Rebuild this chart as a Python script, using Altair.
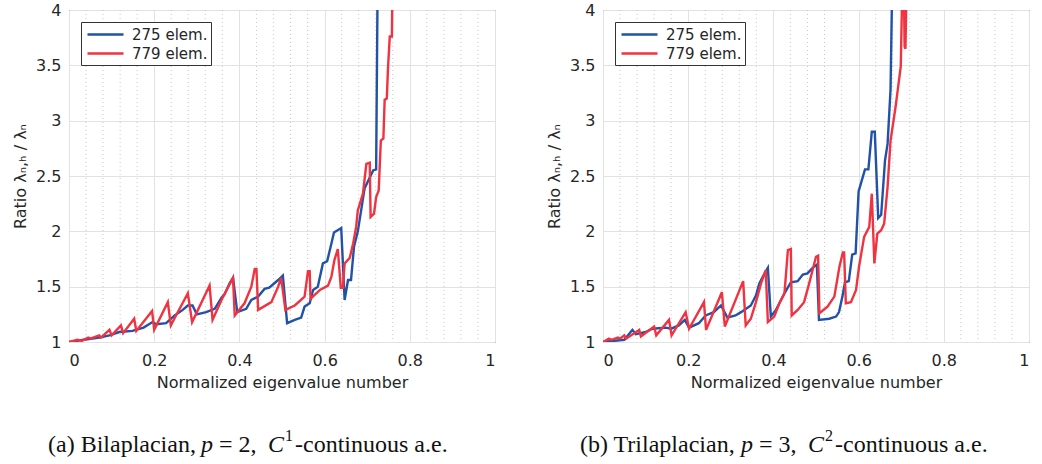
import altair as alt
import pandas as pd

# ---------------- data ----------------
series_names = ["275 elem.", "779 elem."]
series_colors = ["#2152a8", "#ef3340"]

# (a) Bilaplacian
xa_275 = [0.000, 0.035, 0.071, 0.095, 0.118, 0.149, 0.175, 0.196, 0.205, 0.228, 0.248, 0.267, 0.279,
          0.290, 0.300, 0.322, 0.342, 0.358, 0.365, 0.377, 0.385, 0.395, 0.416, 0.428, 0.444, 0.459,
          0.470, 0.491, 0.502, 0.512, 0.530, 0.545, 0.553, 0.565, 0.573, 0.584, 0.596, 0.606, 0.616,
          0.622, 0.639, 0.647, 0.655, 0.662, 0.669, 0.678, 0.694, 0.714, 0.721, 0.725, 0.730]
ya_275 = [1.00, 1.02, 1.04, 1.06, 1.09, 1.10, 1.13, 1.18, 1.16, 1.17, 1.24, 1.29, 1.33,
          1.33, 1.25, 1.27, 1.30, 1.40, 1.43, 1.53, 1.58, 1.27, 1.30, 1.38, 1.41, 1.48,
          1.49, 1.56, 1.60, 1.17, 1.20, 1.22, 1.32, 1.35, 1.47, 1.50, 1.71, 1.73, 1.89,
          1.99, 2.03, 1.38, 1.56, 1.56, 1.86, 2.00, 2.39, 2.55, 2.56, 4.50, 6.00]
xa_779 = [0.000, 0.020, 0.030, 0.045, 0.050, 0.071, 0.075, 0.095, 0.100, 0.122, 0.127, 0.153, 0.158,
          0.195, 0.200, 0.232, 0.239, 0.279, 0.289, 0.330, 0.337, 0.358, 0.385, 0.389, 0.412, 0.428,
          0.436, 0.440, 0.444, 0.475, 0.491, 0.498, 0.508, 0.530, 0.553, 0.561, 0.565, 0.567, 0.589,
          0.608, 0.616, 0.623, 0.631, 0.638, 0.643, 0.647, 0.659, 0.667, 0.674, 0.678, 0.690, 0.698,
          0.706, 0.708, 0.716, 0.721, 0.727, 0.732, 0.738, 0.741, 0.746, 0.749, 0.753, 0.758, 0.760, 0.765]
ya_779 = [1.00, 1.02, 1.01, 1.04, 1.03, 1.06, 1.04, 1.11, 1.06, 1.15, 1.08, 1.21, 1.10,
          1.28, 1.11, 1.36, 1.15, 1.44, 1.18, 1.51, 1.20, 1.38, 1.58, 1.24, 1.35, 1.50,
          1.66, 1.66, 1.29, 1.36, 1.50, 1.58, 1.29, 1.33, 1.41, 1.64, 1.64, 1.39, 1.47,
          1.51, 1.59, 1.74, 1.84, 1.49, 1.49, 1.71, 1.76, 1.89, 2.04, 2.19, 2.34, 2.61,
          2.62, 2.13, 2.16, 2.31, 2.37, 2.82, 2.84, 3.19, 3.20, 3.49, 3.76, 3.76, 4.50, 6.00]

# (b) Trilaplacian
xb_275 = [0.000, 0.050, 0.069, 0.077, 0.100, 0.116, 0.147, 0.160, 0.178, 0.192, 0.202, 0.225, 0.241,
          0.260, 0.277, 0.292, 0.311, 0.324, 0.347, 0.359, 0.367, 0.375, 0.387, 0.394, 0.406, 0.414,
          0.426, 0.441, 0.457, 0.469, 0.480, 0.492, 0.502, 0.507, 0.531, 0.547, 0.554, 0.562, 0.568,
          0.577, 0.585, 0.593, 0.600, 0.615, 0.623, 0.631, 0.638, 0.646, 0.653, 0.662, 0.668, 0.675,
          0.680, 0.685]
yb_275 = [1.00, 1.02, 1.11, 1.07, 1.09, 1.12, 1.13, 1.12, 1.15, 1.20, 1.13, 1.17, 1.24,
          1.27, 1.33, 1.22, 1.24, 1.27, 1.33, 1.42, 1.53, 1.59, 1.67, 1.23, 1.29, 1.35,
          1.44, 1.54, 1.55, 1.61, 1.62, 1.67, 1.70, 1.20, 1.21, 1.23, 1.27, 1.41, 1.54,
          1.55, 1.79, 1.80, 2.36, 2.56, 2.56, 2.90, 2.90, 2.12, 2.15, 2.64, 2.79, 3.28,
          4.50, 6.00]
xb_779 = [0.000, 0.014, 0.020, 0.035, 0.040, 0.050, 0.054, 0.085, 0.089, 0.120, 0.125, 0.155, 0.161,
          0.194, 0.202, 0.237, 0.242, 0.279, 0.286, 0.329, 0.335, 0.347, 0.359, 0.371, 0.382, 0.387,
          0.402, 0.414, 0.426, 0.434, 0.441, 0.443, 0.457, 0.472, 0.484, 0.500, 0.505, 0.508, 0.527,
          0.543, 0.555, 0.563, 0.566, 0.570, 0.582, 0.594, 0.601, 0.613, 0.625, 0.631, 0.637, 0.644,
          0.653, 0.660, 0.668, 0.675, 0.687, 0.695, 0.699, 0.703, 0.706, 0.708, 0.710, 0.713, 0.716, 0.720]
yb_779 = [1.00, 1.03, 1.02, 1.04, 1.03, 1.06, 1.03, 1.11, 1.05, 1.14, 1.06, 1.20, 1.06,
          1.27, 1.12, 1.36, 1.11, 1.45, 1.14, 1.55, 1.15, 1.21, 1.36, 1.53, 1.65, 1.18,
          1.23, 1.35, 1.44, 1.83, 1.84, 1.24, 1.29, 1.36, 1.53, 1.77, 1.78, 1.26, 1.32,
          1.41, 1.68, 1.81, 1.81, 1.35, 1.36, 1.47, 1.68, 1.95, 2.04, 2.34, 1.71, 1.98,
          2.01, 2.07, 2.40, 2.82, 3.13, 3.37, 3.49, 4.30, 4.30, 3.67, 3.65, 4.30, 4.50, 6.00]

x_ticks = [0, 0.2, 0.4, 0.6, 0.8, 1]
y_ticks = [1, 1.5, 2, 2.5, 3, 3.5, 4]
x_minor = [0.04, 0.08, 0.12, 0.16, 0.24, 0.28, 0.32, 0.36, 0.44, 0.48, 0.52, 0.56,
           0.64, 0.68, 0.72, 0.76, 0.84, 0.88, 0.92, 0.96]

x_title = "Normalized eigenvalue number"
y_title = "Ratio λₙ,ₕ / λₙ"

caption_a = ["(a) Bilaplacian,", "p", "= 2,", "C", "1", "-continuous a.e."]
caption_b = ["(b) Trilaplacian,", "p", "= 3,", "C", "2", "-continuous a.e."]

W, H = 426, 332
TXT = "#262626"
SANS = "DejaVu Sans"
SERIF = "Liberation Serif"


def make_df(x1, y1, x2, y2):
    rows = []
    for name, xs, ys in ((series_names[0], x1, y1), (series_names[1], x2, y2)):
        for i, (x, y) in enumerate(zip(xs, ys)):
            rows.append({"x": x, "y": y, "series": name, "i": i})
    return pd.DataFrame(rows)


def caption_layers(pieces, xs):
    styles = [
        dict(fontStyle="normal", fontSize=24, dy=0),
        dict(fontStyle="italic", fontSize=24, dy=0),
        dict(fontStyle="normal", fontSize=24, dy=0),
        dict(fontStyle="italic", fontSize=24, dy=0),
        dict(fontStyle="normal", fontSize=16, dy=-11),
        dict(fontStyle="normal", fontSize=24, dy=0),
    ]
    layers = []
    for t, x, st in zip(pieces, xs, styles):
        layers.append(
            alt.Chart(pd.DataFrame({"t": [t]}))
            .mark_text(font=SERIF, fontSize=st["fontSize"], fontStyle=st["fontStyle"],
                       align="left", baseline="alphabetic", color="#111111", dy=st["dy"])
            .encode(x=alt.value(x), y=alt.value(H + 110), text="t:N")
        )
    return layers


def panel(x1, y1, x2, y2, pieces, cap_x):
    df = make_df(x1, y1, x2, y2)
    xscale = alt.Scale(domain=[0, 1], nice=False, zero=False)
    yscale = alt.Scale(domain=[1, 4], nice=False, zero=False)
    xaxis = alt.Axis(values=x_ticks, format="~g", title=x_title, grid=True,
                     ticks=False, tickSize=0, labelPadding=10, titlePadding=6, domain=False)
    yaxis = alt.Axis(values=y_ticks, format="~g", title=y_title, grid=True,
                     ticks=False, tickSize=0, labelPadding=8, titlePadding=7, domain=False)

    minor = alt.Chart(pd.DataFrame({"x": x_minor})).mark_rule(
        strokeDash=[1, 3], color="#c8c8c8", strokeWidth=1
    ).encode(x=alt.X("x:Q", scale=xscale, axis=xaxis))

    lines = alt.Chart(df).mark_line(strokeWidth=2.4, clip=True).encode(
        x=alt.X("x:Q", scale=xscale, axis=xaxis),
        y=alt.Y("y:Q", scale=yscale, axis=yaxis),
        color=alt.Color(
            "series:N",
            scale=alt.Scale(domain=series_names, range=series_colors),
            legend=alt.Legend(
                title=None, orient="none", legendX=12, legendY=12,
                symbolType="M-2.25,0H2.25", symbolSize=256, symbolStrokeWidth=2.5,
                symbolOffset=12, labelOffset=17,
                labelFont=SANS, labelFontSize=15, labelColor=TXT,
                strokeColor="#333333", fillColor="white", padding=3, rowPadding=1,
                cornerRadius=0,
            ),
        ),
        order="i:Q",
    )
    return alt.layer(minor, lines, *caption_layers(pieces, cap_x)).properties(width=W, height=H)


left = panel(xa_275, ya_275, xa_779, ya_779, caption_a, [-21, 132, 150, 199, 216, 226])
right = panel(xb_275, yb_275, xb_779, yb_779, caption_b, [-23, 138, 156, 205, 222, 232])

chart = (
    alt.hconcat(left, right, spacing=50)
    .resolve_scale(color="independent")
    .resolve_legend(color="independent")
    .properties(padding={"left": 12, "top": 1, "right": 0, "bottom": 0}, background="white")
    .configure_view(stroke="#404040", strokeWidth=1)
    .configure_axis(
        labelFont=SANS, labelFontSize=16, labelColor=TXT,
        titleFont=SANS, titleFontSize=16, titleColor=TXT, titleFontWeight="normal",
        gridColor="#e2e2e2", gridWidth=1,
    )
)

chart.save("out.html", embed_options={"renderer": "svg", "actions": False})
